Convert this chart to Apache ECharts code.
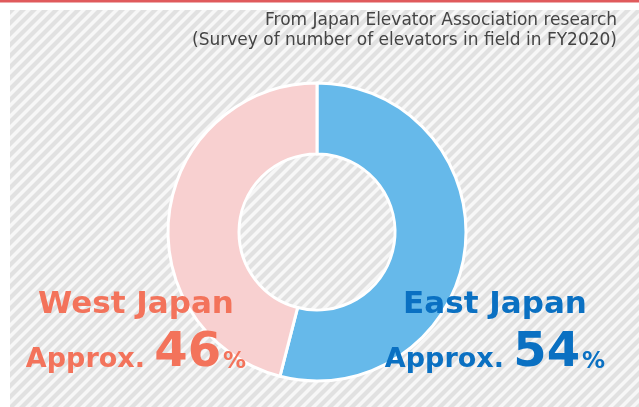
<!DOCTYPE html>
<html>
<head>
<meta charset="utf-8">
<script src="https://cdn.jsdelivr.net/npm/echarts@6/dist/echarts.min.js"></script>
<style>
  html, body { margin: 0; padding: 0; background: #ffffff; }
  #chart { width: 639px; height: 407px; }
</style>
</head>
<body>
<div id="chart"></div>
<script>
// Regional share of elevators in service (FY2020)
const regions = ['East Japan', 'West Japan'];
const shares = [54, 46];
const regionColors = ['#66b9ea', '#f8d0d0'];
const labelColors = ['#0a70c2', '#f3735b'];
const sourceLines = [
  'From Japan Elevator Association research',
  '(Survey of number of elevators in field in FY2020)'
];

// Diagonal hatch used for the panel background
function makeHatch() {
  const size = 11;
  const c = document.createElement('canvas');
  c.width = size; c.height = size;
  const g = c.getContext('2d');
  g.fillStyle = '#f7f7f7';
  g.fillRect(0, 0, size, size);
  g.strokeStyle = '#e1e1e1';
  g.lineWidth = 4.2;
  g.lineCap = 'square';
  for (let k = -1; k <= 1; k++) {
    g.beginPath();
    g.moveTo(k * size, size);
    g.lineTo(k * size + size, 0);
    g.stroke();
  }
  return c;
}

const chart = echarts.init(document.getElementById('chart'), null, { renderer: 'canvas' });

const labelFont = '"DejaVu Sans", Verdana, sans-serif';

function regionLabel(i, x, y) {
  const col = labelColors[i];
  return [
    {
      type: 'text', z: 100,
      style: {
        text: regions[i],
        x: x, y: y,
        align: 'center', verticalAlign: 'bottom',
        font: 'bold 31px ' + labelFont,
        fill: col
      }
    },
    {
      type: 'text', z: 100,
      style: {
        text: '{a|Approx. }{b|' + shares[i] + '}{c|%}',
        x: x, y: y + 58,
        align: 'center', verticalAlign: 'bottom',
        rich: {
          a: { fontFamily: labelFont, fontWeight: 'bold', fontSize: 27, fill: col, verticalAlign: 'bottom', padding: [0, 0, 5, 0] },
          b: { fontFamily: labelFont, fontWeight: 'bold', fontSize: 48, fill: col, verticalAlign: 'bottom' },
          c: { fontFamily: labelFont, fontWeight: 'bold', fontSize: 23, fill: col, verticalAlign: 'bottom', padding: [0, 0, 4, 2] }
        }
      }
    }
  ];
}

chart.setOption({
  animation: false,
  backgroundColor: '#ffffff',
  graphic: [
    {
      type: 'rect', z: -10,
      shape: { x: 0, y: 0, width: 639, height: 2.5 },
      style: { fill: '#e05a5c' }
    },
    {
      type: 'rect', z: -10,
      shape: { x: 10, y: 10, width: 629, height: 397 },
      style: { fill: { image: makeHatch(), repeat: 'repeat' } }
    },
    {
      type: 'text', z: 100,
      style: {
        text: sourceLines.join('\n'),
        x: 617, y: 11,
        align: 'right', verticalAlign: 'top',
        font: '17px "DejaVu Sans", sans-serif',
        lineHeight: 20,
        fill: '#444444'
      }
    }
  ].concat(regionLabel(1, 136, 320), regionLabel(0, 495, 320)),
  series: [
    {
      type: 'pie',
      center: [317, 232],
      radius: [78, 149],
      startAngle: 90,
      clockwise: true,
      silent: true,
      z: 2,
      label: { show: false },
      labelLine: { show: false },
      itemStyle: { borderColor: '#ffffff', borderWidth: 3 },
      data: regions.map((name, i) => ({
        name: name,
        value: shares[i],
        itemStyle: { color: regionColors[i] }
      }))
    }
  ]
});
</script>
</body>
</html>
